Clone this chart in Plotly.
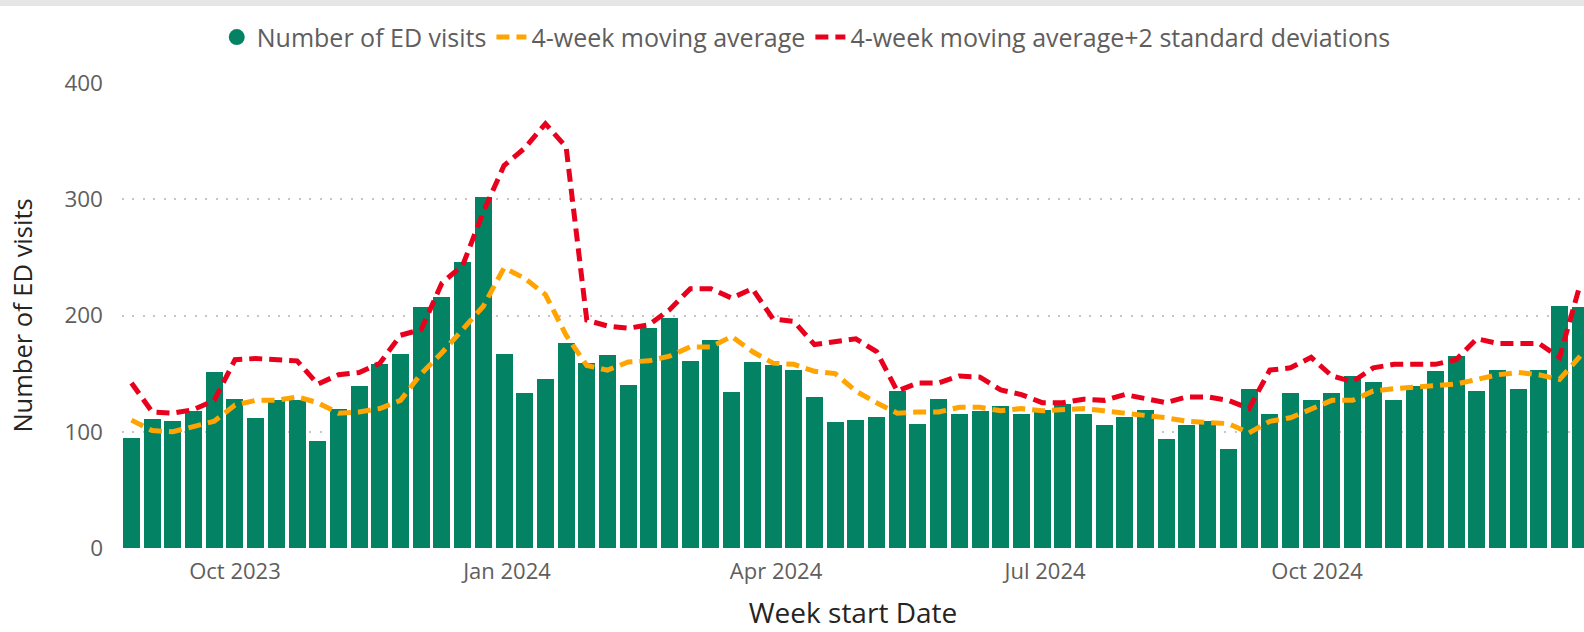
import plotly.graph_objects as go
import pandas as pd

# ---- data ----
first_week = "2023-08-27"
n_weeks = 71
week_start = pd.date_range(first_week, periods=n_weeks, freq="7D")

ed_visits = [95, 111, 109, 118, 151, 128, 112, 127, 127, 92,
             120, 139, 158, 167, 207, 216, 246, 302, 167, 133,
             145, 176, 159, 166, 140, 189, 198, 161, 179, 134,
             160, 157, 153, 130, 108, 110, 113, 135, 107, 128,
             115, 118, 122, 115, 119, 124, 115, 106, 113, 119,
             94, 106, 109, 85, 137, 115, 133, 127, 133, 148,
             143, 127, 139, 152, 165, 135, 153, 137, 153, 208,
             207]

moving_avg = [110, 101, 100, 104, 109, 123, 127, 127, 130, 125,
              116, 117, 120, 127, 150, 168, 188, 208, 241, 232,
              218, 183, 157, 153, 160, 161, 165, 173, 173, 182,
              169, 159, 158, 152, 150, 135, 125, 116, 117, 117,
              121, 121, 118, 120, 118, 119, 120, 118, 116, 115,
              112, 109, 108, 107, 99, 109, 112, 119, 127, 127,
              135, 137, 138, 139, 141, 145, 149, 151, 149, 145,
              165]

moving_avg_2sd = [142, 117, 116, 119, 127, 162, 163, 162, 161, 141,
                  149, 151, 159, 183, 188, 228, 243, 289, 329, 344,
                  365, 345, 196, 191, 189, 192, 205, 223, 223, 215,
                  223, 197, 195, 175, 178, 180, 169, 135, 142, 142,
                  148, 147, 136, 132, 125, 125, 128, 127, 132, 129,
                  125, 130, 130, 127, 120, 153, 155, 164, 148, 143,
                  155, 158, 158, 158, 162, 180, 176, 176, 176, 164,
                  227]

tick_dates = ["2023-10-01", "2024-01-01", "2024-04-01", "2024-07-01", "2024-10-01"]
tick_labels = ["Oct 2023", "Jan 2024", "Apr 2024", "Jul 2024", "Oct 2024"]
y_ticks = [0, 100, 200, 300, 400]

# ---- style ----
GREEN = "#038364"
ORANGE = "#FFA400"
RED = "#E8001C"
FONT = "Open Sans, Noto Sans, DejaVu Sans, sans-serif"
GRAY_TXT = "#605E5C"
DARK_TXT = "#252423"

fig = go.Figure()

fig.add_trace(go.Bar(
    x=week_start, y=ed_visits, name="Number of ED visits",
    marker=dict(color=GREEN, line=dict(width=0)),
    width=5.75 * 86400000, showlegend=False,
))
# legend proxy with circle marker
fig.add_trace(go.Scatter(
    x=[None], y=[None], mode="markers", name="Number of ED visits",
    marker=dict(color=GREEN, size=19, symbol="circle"),
))
fig.add_trace(go.Scatter(
    x=week_start, y=moving_avg, mode="lines", name="4-week moving average",
    line=dict(color=ORANGE, width=5, dash="13px,7px"),
))
fig.add_trace(go.Scatter(
    x=week_start, y=moving_avg_2sd, mode="lines",
    name="4-week moving average+2 standard deviations",
    line=dict(color=RED, width=5, dash="13px,7px"),
))

fig.update_layout(
    width=1584, height=632,
    margin=dict(l=122, r=0, t=83, b=84, autoexpand=False),
    paper_bgcolor="white", plot_bgcolor="white",
    font=dict(family=FONT, color=GRAY_TXT, size=22),
    bargap=0,
    legend=dict(
        orientation="h", xref="container", yref="container",
        x=0.509, xanchor="center", y=0.941, yanchor="middle",
        font=dict(size=25, color=GRAY_TXT), itemwidth=30, tracegroupgap=0,
        bgcolor="rgba(0,0,0,0)",
    ),
    xaxis=dict(
        type="date", automargin=False,
        range=["2023-08-23 19:00", "2024-12-30 06:40"],
        tickvals=tick_dates, ticktext=tick_labels,
        showgrid=False, zeroline=False, showline=False, ticks="",
        tickfont=dict(size=22, color=GRAY_TXT),
        ticklabelstandoff=8,
        title=dict(text="Week start Date", font=dict(size=28, color=DARK_TXT), standoff=19),
    ),
    yaxis=dict(
        range=[0, 400], tickvals=y_ticks, automargin=False,
        showgrid=True, gridcolor="#C8C6C4", griddash="2px,8.4px", gridwidth=2,
        zeroline=False, showline=False, ticks="",
        tickfont=dict(size=22.5, color=GRAY_TXT),
        ticklabelstandoff=18,
        title=dict(text="Number of ED visits", font=dict(size=25.5, color=DARK_TXT), standoff=24),
    ),
    shapes=[dict(type="rect", xref="paper", yref="paper", x0=-0.1, x1=1.0,
                 y0=(548 - 6) / 465, y1=(548 + 5) / 465, fillcolor="#E6E6E6",
                 line=dict(width=0), layer="above")],
)

fig.write_html("out.html", config={"displayModeBar": False},
               post_script="document.body.style.margin='0';")
